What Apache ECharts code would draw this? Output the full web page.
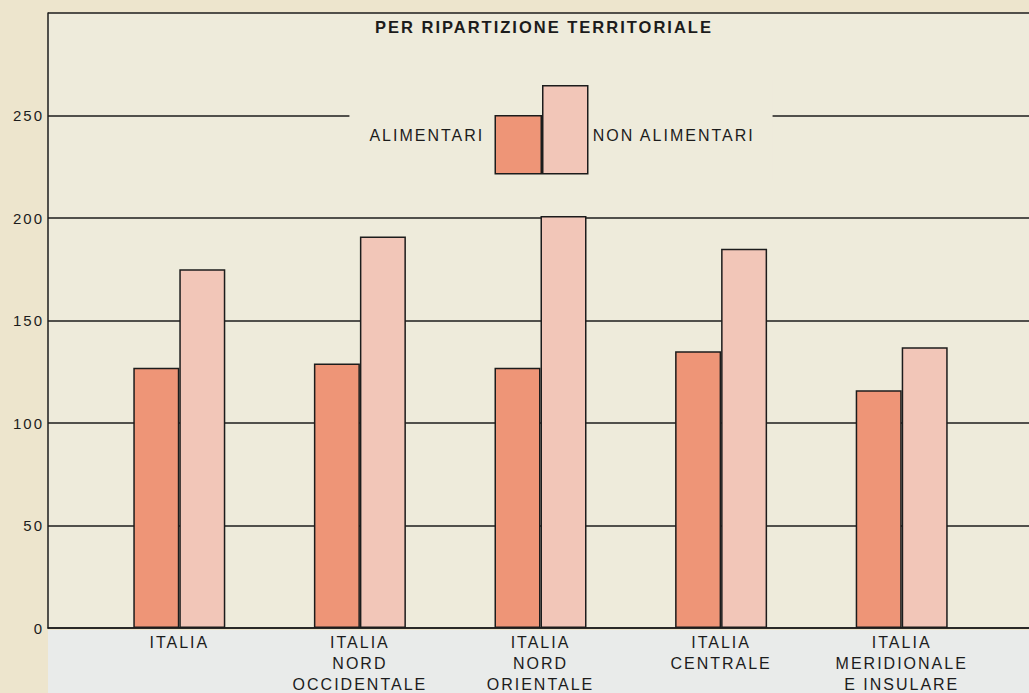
<!DOCTYPE html>
<html>
<head>
<meta charset="utf-8">
<script src="https://cdn.jsdelivr.net/npm/echarts@6/dist/echarts.min.js"></script>
<style>
  html, body { margin: 0; padding: 0; background: #ede5cd; }
  #wrap { position: relative; width: 1029px; height: 693px; overflow: hidden; }
  #bottom { position: absolute; left: 48px; top: 630px; width: 981px; height: 63px; background: #e9ebea; }
  #chart { position: absolute; left: 0; top: 0; width: 1029px; height: 693px; }
  #chart text { letter-spacing: 2px; }
</style>
</head>
<body>
<div id="wrap">
  <div id="bottom"></div>
  <div id="chart"></div>
</div>
<script>
const categories = ['ITALIA', 'ITALIA\nNORD\nOCCIDENTALE', 'ITALIA\nNORD\nORIENTALE', 'ITALIA\nCENTRALE', 'ITALIA\nMERIDIONALE\nE INSULARE'];
const alimentari = [127, 129, 127, 135, 116];
const nonAlimentari = [175, 191, 201, 185, 137];
const seriesNames = ['ALIMENTARI', 'NON ALIMENTARI'];
const titleText = 'PER RIPARTIZIONE TERRITORIALE';
const yMin = 0, yMax = 300, yStep = 50;

const FONT = "'Liberation Sans', Arial, sans-serif";
const INK = '#1c1c1c';
const PLOT_BG = '#eeebdb';

const chart = echarts.init(document.getElementById('chart'), null, { renderer: 'svg', width: 1029, height: 693 });

chart.setOption({
  backgroundColor: 'transparent',
  animation: false,
  textStyle: { fontFamily: FONT },
  title: {
    text: titleText,
    left: 375, top: 18, padding: 0,
    textStyle: { fontFamily: FONT, fontSize: 16.5, fontWeight: 'bold', color: INK }
  },
  legend: [
    {
      data: [seriesNames[0]],
      right: 1029 - 542, top: 110,
      padding: [5, 0, 5, 40],
      align: 'right',
      itemWidth: 46, itemHeight: 58,
      icon: 'rect',
      backgroundColor: PLOT_BG,
      itemStyle: { borderColor: INK, borderWidth: 1.5 },
      formatter: '{t|{name}}',
      textStyle: {
        fontFamily: FONT, fontSize: 16, color: INK,
        rich: { t: { fontFamily: FONT, fontSize: 16, color: INK, padding: [0, 6, 18, 0] } }
      }
    },
    {
      data: [seriesNames[1]],
      left: 542, top: 80,
      padding: [5, 45, 5, 0],
      align: 'left',
      itemWidth: 45, itemHeight: 88,
      icon: 'rect',
      backgroundColor: PLOT_BG,
      itemStyle: { borderColor: INK, borderWidth: 1.5 },
      formatter: '{t|{name}}',
      textStyle: {
        fontFamily: FONT, fontSize: 16, color: INK,
        rich: { t: { fontFamily: FONT, fontSize: 16, color: INK, padding: [12, 0, 0, 0] } }
      }
    }
  ],
  grid: [
    { left: 48, right: 0, top: 13, bottom: 65, show: true, backgroundColor: PLOT_BG, borderWidth: 0, outerBoundsMode: 'none', containLabel: false },
    { left: 89, right: 37, top: 13, bottom: 65, outerBoundsMode: 'none', containLabel: false }
  ],
  xAxis: [
    {
      gridIndex: 0, type: 'value', min: 0, max: 1,
      axisLine: { show: true, onZero: false, lineStyle: { color: INK, width: 1.5 } },
      axisTick: { show: false }, axisLabel: { show: false }, splitLine: { show: false }
    },
    {
      gridIndex: 1, type: 'category', data: categories,
      axisLine: { show: false }, axisTick: { show: false },
      axisLabel: { fontFamily: FONT, fontSize: 16, lineHeight: 21, color: INK, margin: 4, interval: 0 }
    }
  ],
  yAxis: [
    {
      gridIndex: 0, type: 'value', min: yMin, max: yMax, interval: yStep,
      axisLine: { show: true, lineStyle: { color: INK, width: 1.5 } },
      axisTick: { show: false },
      axisLabel: { fontFamily: FONT, fontSize: 15, color: INK, margin: 4, showMaxLabel: false },
      splitLine: { show: true, lineStyle: { color: INK, width: 1.5 } }
    },
    {
      gridIndex: 1, type: 'value', min: yMin, max: yMax, interval: yStep, show: false,
      splitLine: { show: false }
    }
  ],
  series: [
    {
      name: seriesNames[0], type: 'bar', xAxisIndex: 1, yAxisIndex: 1,
      data: alimentari, barWidth: 46, barGap: '0%',
      itemStyle: { color: '#ee9577', borderColor: INK, borderWidth: 1.5 }
    },
    {
      name: seriesNames[1], type: 'bar', xAxisIndex: 1, yAxisIndex: 1,
      data: nonAlimentari, barWidth: 46, barGap: '0%',
      itemStyle: { color: '#f2c6b8', borderColor: INK, borderWidth: 1.5 }
    }
  ]
});
</script>
</body>
</html>
